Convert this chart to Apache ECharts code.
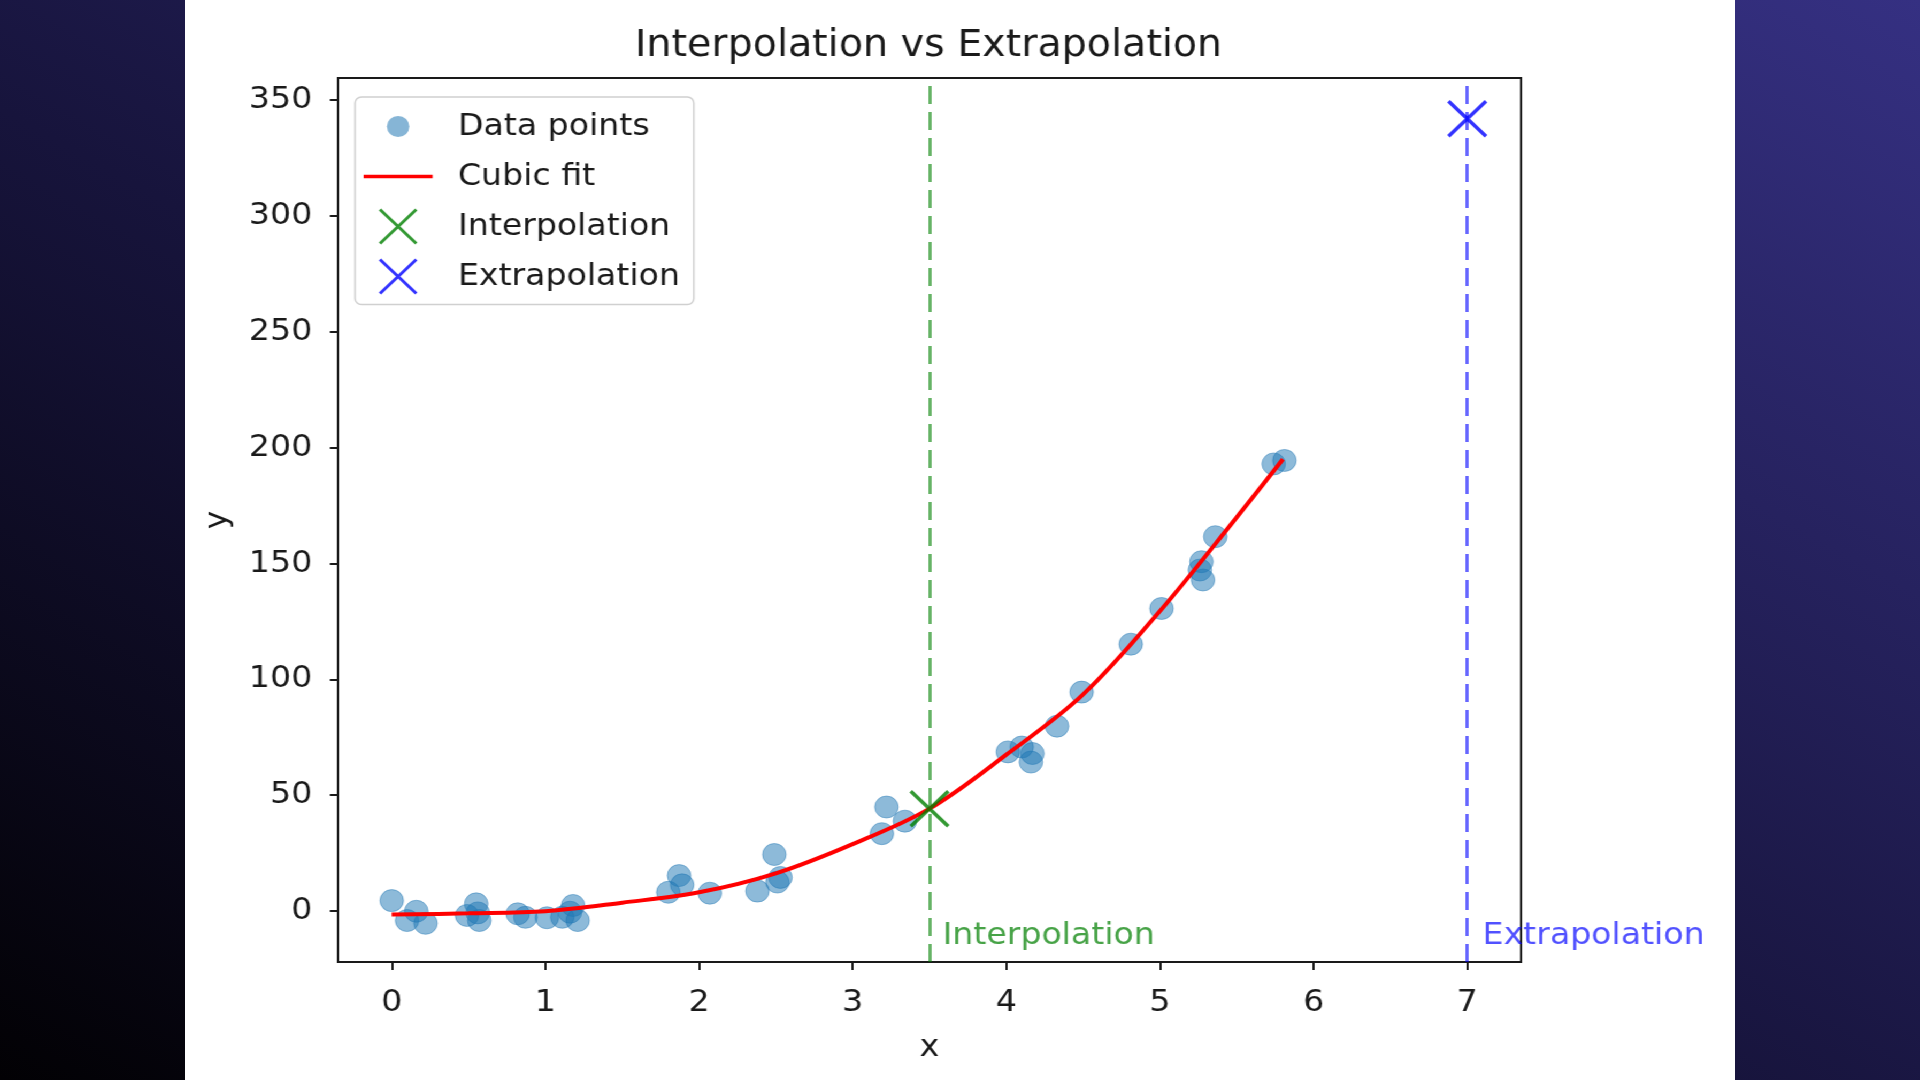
<!DOCTYPE html>
<html>
<head>
<meta charset="utf-8">
<title>Interpolation vs Extrapolation</title>
<script src="https://cdn.jsdelivr.net/npm/echarts@6/dist/echarts.min.js"></script>
<style>
html, body { margin: 0; padding: 0; width: 1920px; height: 1080px; overflow: hidden; }
body { background: linear-gradient(to top right, #020104 0%, #17143c 45%, #353082 100%); }
/* the source figure is a bit stretched sideways, so the chart is too */
#chart { position: absolute; left: 185px; top: 0; width: 1449px; height: 1080px; background: #fff;
	transform: scaleX(1.0697); transform-origin: 0 0; }
</style>
</head>
<body>
<div id="chart"></div>
<script>
// noisy samples
var dataX = [0.0, 0.10, 0.16, 0.22, 0.49, 0.55, 0.57, 0.56, 0.82, 0.87, 1.01, 1.11, 1.16, 1.18, 1.21,
	1.80, 1.87, 1.89, 2.07, 2.38, 2.49, 2.51, 2.53, 3.19, 3.22, 3.34,
	4.01, 4.10, 4.17, 4.16, 4.33, 4.49, 4.81, 5.01, 5.26, 5.27, 5.28, 5.36, 5.74, 5.81];
var dataY = [4.5, -4.1, -0.1, -5.3, -1.9, 3.1, -4.1, -0.8, -1.2, -2.7, -2.9, -2.7, -0.5, 2.4, -4.1,
	8.1, 15.3, 11.3, 7.7, 8.6, 24.4, 12.5, 14.5, 33.4, 44.9, 38.8,
	68.7, 70.8, 68.0, 64.3, 79.8, 94.5, 115.2, 130.6, 147.2, 150.8, 142.9, 161.6, 193.0, 194.5];
// cubic fit curve
var fitX = [0, 0.5, 1, 1.5, 2, 2.5, 3, 3.5, 4, 4.5, 5, 5.5, 5.8];
var fitY = [-1.5, -1.0, -0.1, 3.6, 8.1, 16.3, 28.9, 44.2, 67.5, 93.5, 129.5, 170, 195];
// predictions
var interpPt = [3.5, 44.2];
var extrapPt = [7, 342];
// text notes
var noteNames = ['Interpolation', 'Extrapolation'];
var noteX = [3.585, 7.1];
var noteY = [-10.7, -10.7];
// ticks
var xTicks = [0, 1, 2, 3, 4, 5, 6, 7];
var yTicks = [0, 50, 100, 150, 200, 250, 300, 350];

var FONT = 'DejaVu Sans';
var INK = '#1a1a1a';
var crossPath = 'path://M0,0L10,10M10,0L0,10';
var legendCross = 'path://M0,0L34,34M34,0L0,34';

var myChart = echarts.init(document.getElementById('chart'));

function pairs(xs, ys){
	var out = [];
	for (var i = 0; i < xs.length; i++) out.push([xs[i], ys[i]]);
	return out;
}

var option = {
	animation: false,
	backgroundColor: '#fff',
	textStyle: { fontFamily: FONT },
	title: {
		text: 'Interpolation vs Extrapolation',
		left: 695,
		top: 28,
		padding: 0,
		textAlign: 'center',
		textStyle: { fontFamily: FONT, fontSize: 37, fontWeight: 'normal', color: INK }
	},
	grid: {
		left: 143, right: 200, top: 78, bottom: 118,
		show: true, borderColor: INK, borderWidth: 2, backgroundColor: '#fff'
	},
	legend: {
		orient: 'vertical',
		left: 159,
		top: 97,
		padding: [9.5, 13, 8, 8],
		itemWidth: 64.5,
		itemHeight: 34,
		itemGap: 10,
		backgroundColor: 'rgba(255,255,255,0.8)',
		borderColor: '#d0d0d0',
		borderWidth: 1.5,
		borderRadius: 6,
		textStyle: { fontFamily: FONT, fontSize: 31, color: INK, lineHeight: 40, padding: [0, 0, 0, 18.7] },
		data: [
			{ name: 'Data points', icon: 'path://M0,0M34,34M6.5,17A10.5,10.5,0,1,0,27.5,17A10.5,10.5,0,1,0,6.5,17Z',
				itemStyle: { color: 'rgba(31,119,180,0.68)', borderWidth: 0 } },
			{ name: 'Cubic fit', icon: 'path://M0,0L69,0L69,4L0,4Z',
				itemStyle: { color: '#ff0000', borderWidth: 0 } },
			{ name: 'Interpolation', icon: legendCross,
				itemStyle: { color: 'none', borderColor: '#008000', borderWidth: 3 } },
			{ name: 'Extrapolation', icon: legendCross,
				itemStyle: { color: 'none', borderColor: '#0000ff', borderWidth: 3 } }
		]
	},
	xAxis: {
		type: 'value',
		min: -0.35,
		max: 7.35,
		name: 'x',
		nameLocation: 'middle',
		nameGap: 70,
		nameTextStyle: { fontFamily: FONT, fontSize: 31, color: INK },
		axisLine: { show: true, onZero: false, lineStyle: { color: INK, width: 2 } },
		axisTick: { show: true, length: 8, customValues: xTicks, lineStyle: { color: INK, width: 2 } },
		axisLabel: { customValues: xTicks, fontFamily: FONT, fontSize: 31, color: INK, margin: 25 },
		splitLine: { show: false }
	},
	yAxis: {
		type: 'value',
		min: -22,
		max: 359.6,
		name: 'y',
		nameLocation: 'middle',
		nameGap: 97,
		nameTextStyle: { fontFamily: FONT, fontSize: 31, color: INK },
		axisLine: { show: true, onZero: false, lineStyle: { color: INK, width: 2 } },
		axisTick: { show: true, length: 7.5, customValues: yTicks, lineStyle: { color: INK, width: 2 } },
		axisLabel: { customValues: yTicks, fontFamily: FONT, fontSize: 31, color: INK, margin: 24 },
		splitLine: { show: false }
	},
	series: [
		{
			name: 'Data points',
			type: 'scatter',
			symbol: 'circle',
			symbolSize: 22,
			itemStyle: { color: 'rgba(31,119,180,0.64)', borderColor: 'rgba(31,119,180,0.55)', borderWidth: 1 },
			data: pairs(dataX, dataY),
			z: 2
		},
		{
			name: 'Cubic fit',
			type: 'line',
			symbol: 'none',
			smooth: 0.35,
			lineStyle: { color: '#ff0000', width: 4 },
			itemStyle: { color: '#ff0000' },
			data: pairs(fitX, fitY),
			z: 3
		},
		{
			name: 'Interpolation',
			type: 'scatter',
			symbol: crossPath,
			symbolSize: 35,
			itemStyle: { color: 'none', borderColor: '#008000', borderWidth: 3.5 },
			data: [interpPt],
			markLine: {
				silent: true,
				symbol: 'none',
				z: 1,
				label: { show: false },
				lineStyle: { color: 'rgba(0,128,0,0.6)', type: [18, 8], width: 3 },
				data: [{ xAxis: interpPt[0] }]
			},
			z: 4
		},
		{
			name: 'Extrapolation',
			type: 'scatter',
			symbol: crossPath,
			symbolSize: 35,
			itemStyle: { color: 'none', borderColor: '#0000ff', borderWidth: 3.5 },
			data: [extrapPt],
			markLine: {
				silent: true,
				symbol: 'none',
				z: 1,
				label: { show: false },
				lineStyle: { color: 'rgba(0,0,255,0.6)', type: [18, 8], width: 3 },
				data: [{ xAxis: extrapPt[0] }]
			},
			z: 4
		},
		{
			name: 'notes',
			type: 'scatter',
			symbolSize: 0,
			silent: true,
			data: [
				{ value: [noteX[0], noteY[0]], label: { color: 'rgba(0,128,0,0.9)' } },
				{ value: [noteX[1], noteY[1]], label: { color: 'rgba(0,0,255,0.85)' } }
			],
			label: {
				show: true,
				position: 'right',
				distance: 0,
				fontFamily: FONT,
				fontSize: 31,
				formatter: function(p){ return noteNames[p.dataIndex]; }
			},
			z: 5
		}
	]
};
myChart.setOption(option, true);
</script>
</body>
</html>
